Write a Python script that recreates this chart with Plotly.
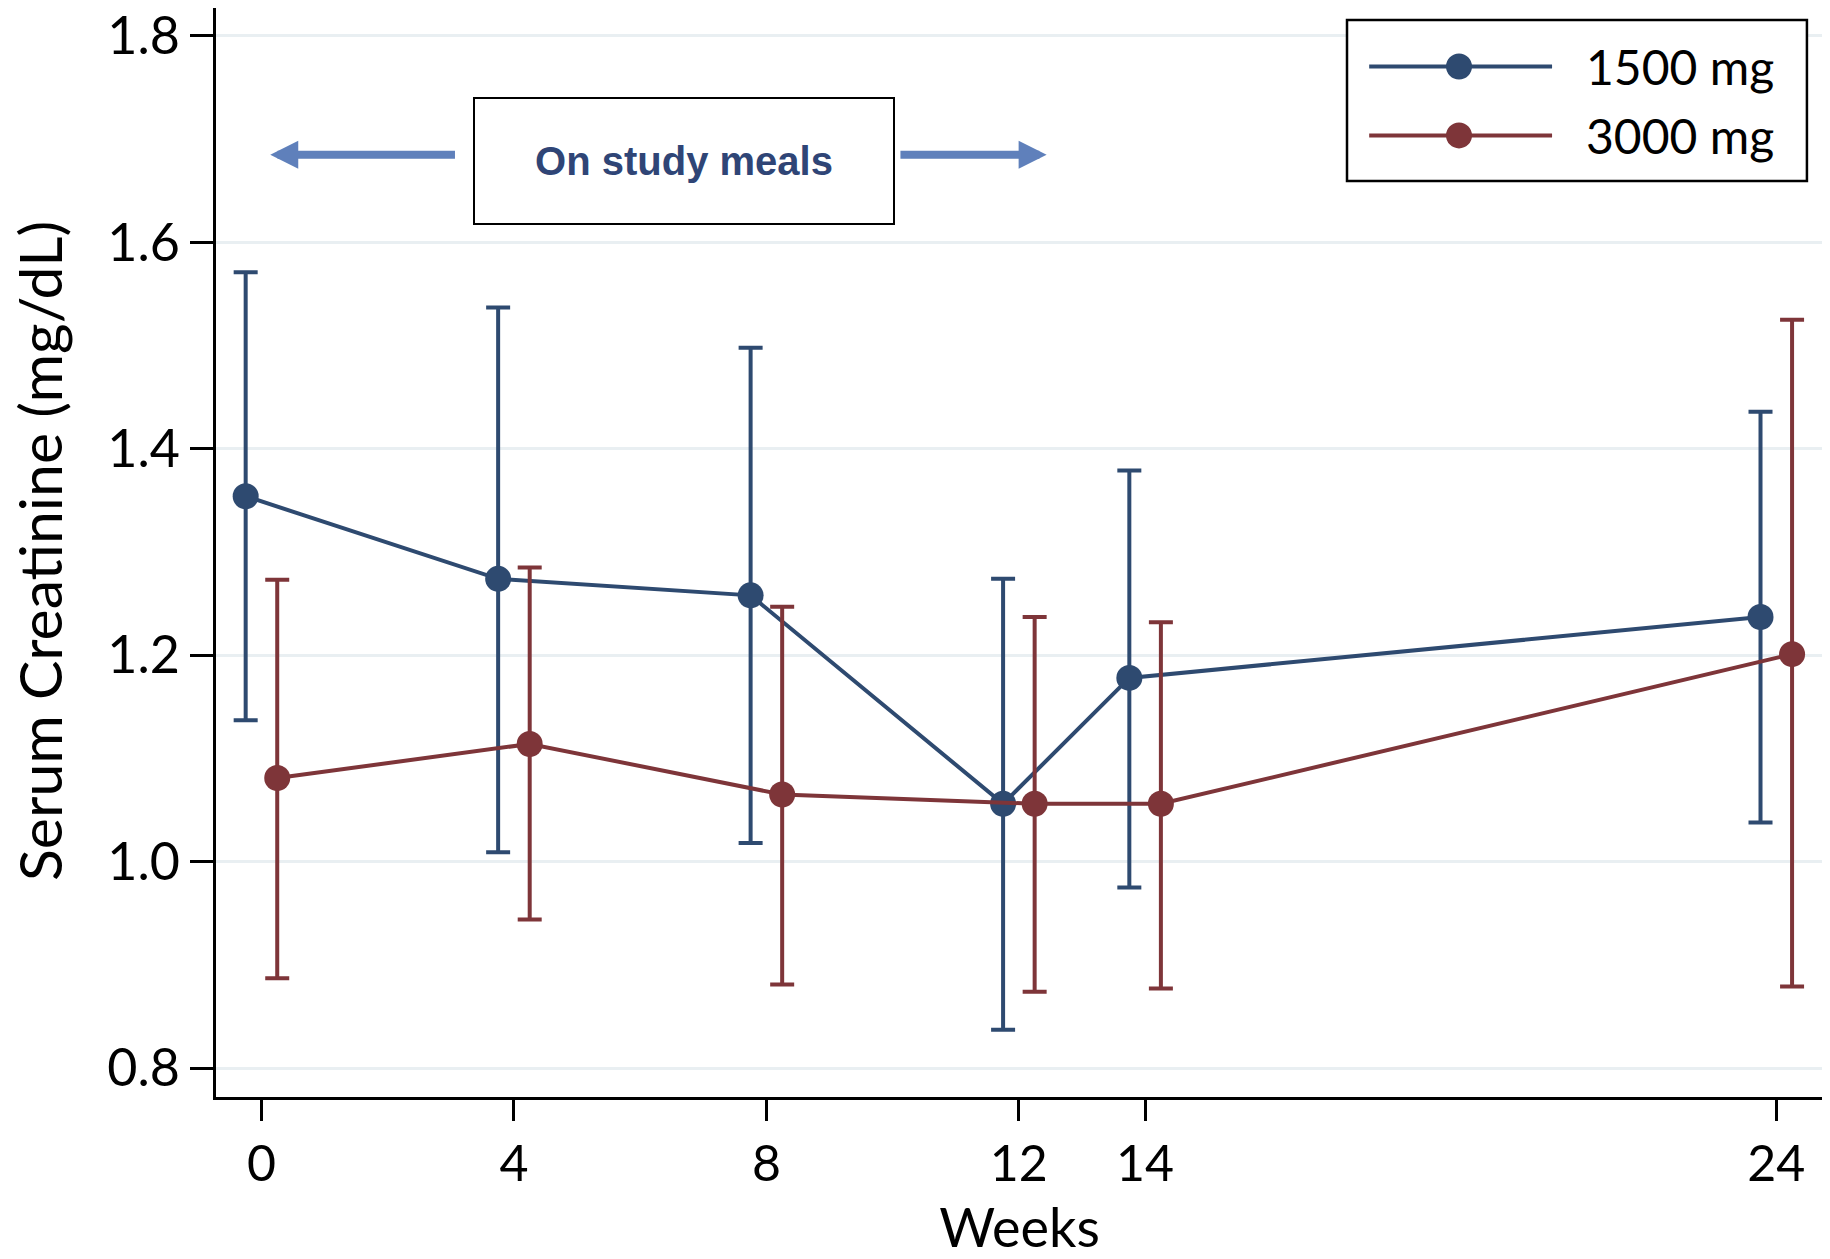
import plotly.graph_objects as go

weeks = [0, 4, 8, 12, 14, 24]
offset_1500 = -0.25
offset_3000 = 0.25

mean_1500 = [1.354, 1.274, 1.258, 1.056, 1.178, 1.237]
upper_1500 = [1.571, 1.537, 1.498, 1.274, 1.379, 1.436]
lower_1500 = [1.137, 1.009, 1.018, 0.837, 0.975, 1.038]

mean_3000 = [1.081, 1.114, 1.065, 1.056, 1.056, 1.201]
upper_3000 = [1.273, 1.285, 1.247, 1.237, 1.232, 1.525]
lower_3000 = [0.887, 0.944, 0.881, 0.874, 0.877, 0.879]

y_ticks = [0.8, 1.0, 1.2, 1.4, 1.6, 1.8]
y_ticklabels = ["0.8", "1.0", "1.2", "1.4", "1.6", "1.8"]

series_names = ["1500 mg", "3000 mg"]
y_title = "Serum Creatinine (mg/dL)"

navy = "#2e4a70"
maroon = "#7e3539"
arrow_col = "#5f80bb"
font_fam = "Lato, 'Noto Sans', sans-serif"

def trace(name, means, up, lo, off, color):
    xs = [w + off for w in weeks]
    return go.Scatter(
        x=xs, y=means, name=name, mode="lines+markers", showlegend=False,
        line=dict(color=color, width=4),
        marker=dict(color=color, size=26),
        error_y=dict(type="data", symmetric=False,
                     array=[u - m for u, m in zip(up, means)],
                     arrayminus=[m - l for m, l in zip(means, lo)],
                     color=color, thickness=4, width=12),
    )

fig = go.Figure()
fig.add_trace(trace(series_names[0], mean_1500, upper_1500, lower_1500, offset_1500, navy))
fig.add_trace(trace(series_names[1], mean_3000, upper_3000, lower_3000, offset_3000, maroon))

# "On study meals" box and arrows
fig.add_annotation(x=6.69, y=1.679, xref="x", yref="y", text="<b>On study meals</b>",
                   showarrow=False, font=dict(family="'Liberation Sans', Arial, sans-serif", size=40, color="#2f4576"),
                   bordercolor="black", borderwidth=2, borderpad=0, width=418, height=124,
                   bgcolor="white")
for tail, head in [(3.09, 0.14), (10.1, 12.44)]:
    fig.add_annotation(x=head, y=1.685, ax=tail, ay=1.685, xref="x", yref="y",
                       axref="x", ayref="y", text="", showarrow=True,
                       arrowhead=2, arrowsize=0.7, arrowwidth=8, arrowcolor=arrow_col,
                       standoff=0, startstandoff=0)

# y-axis title (rotated text)
fig.add_annotation(x=-0.1095, y=0.5014, xref="paper", yref="paper", text=y_title,
                   textangle=-90, showarrow=False, xanchor="center", yanchor="middle",
                   font=dict(size=59, color="black"))

# legend (drawn in paper coordinates)
leg_box = dict(x0=0.7038, x1=0.990, y0=0.8411, y1=0.9890)
leg_rows = [0.9463, 0.8830]
leg_line = (0.7176, 0.8314)
leg_marker_x = 0.7735
leg_text_x = 0.8513
fig.add_shape(type="rect", xref="paper", yref="paper", **leg_box,
              line=dict(color="black", width=2.5), fillcolor="white", layer="above")
for name, color, ry in zip(series_names, [navy, maroon], leg_rows):
    fig.add_shape(type="line", xref="paper", yref="paper", x0=leg_line[0], x1=leg_line[1],
                  y0=ry, y1=ry, line=dict(color=color, width=4), layer="above")
    fig.add_shape(type="circle", xref="paper", yref="paper", xsizemode="pixel", ysizemode="pixel",
                  xanchor=leg_marker_x, yanchor=ry, x0=-13, x1=13, y0=-13, y1=13,
                  line=dict(color=color, width=0), fillcolor=color, layer="above")
    fig.add_annotation(x=leg_text_x, y=ry, xref="paper", yref="paper", text=name,
                       showarrow=False, xanchor="left", yanchor="middle",
                       font=dict(size=48, color="black"))

fig.update_layout(
    width=1822, height=1251,
    margin=dict(l=208, r=7, t=0, b=162),
    paper_bgcolor="white", plot_bgcolor="white",
    font=dict(family=font_fam, size=50, color="black"),
    showlegend=False,
    xaxis=dict(range=[-0.72, 24.74], tickvals=weeks, ticktext=[str(w) for w in weeks],
               automargin=False, ticklabeloverflow="allow",
               showgrid=False, zeroline=False, showline=True, linecolor="black", linewidth=3,
               ticks="outside", ticklen=21, tickwidth=2.5, tickcolor="black",
               tickfont=dict(size=50),
               title=dict(text="Weeks", font=dict(size=54), standoff=28)),
    yaxis=dict(range=[0.7719, 1.8271], tickvals=y_ticks, ticktext=y_ticklabels,
               automargin=False, ticklabeloverflow="allow",
               showgrid=True, gridcolor="#e9eff2", gridwidth=3, zeroline=False,
               showline=True, linecolor="black", linewidth=2.5,
               ticks="outside", ticklen=23, tickwidth=2.5, tickcolor="black",
               tickfont=dict(size=52)),
)

fig.write_html("out.html")
